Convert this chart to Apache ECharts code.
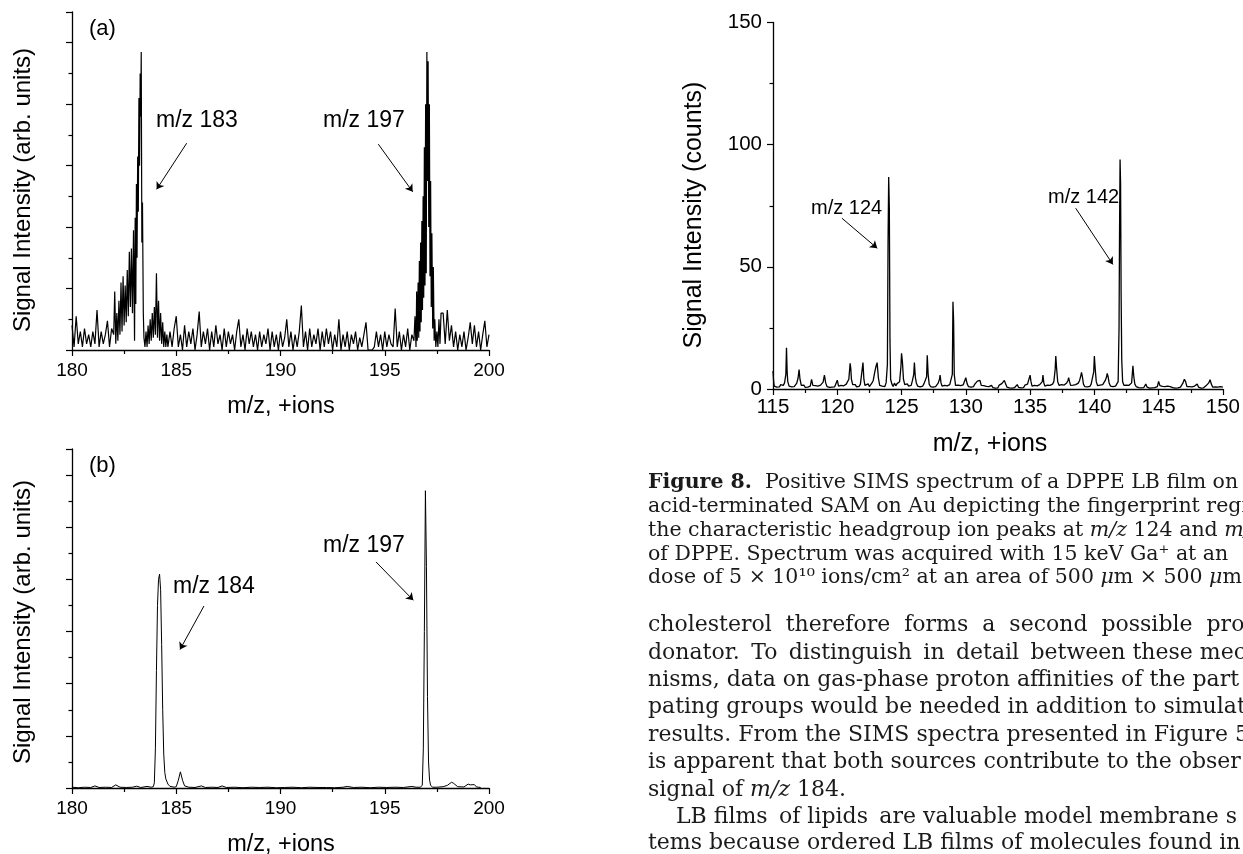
<!DOCTYPE html>
<html>
<head>
<meta charset="utf-8">
<script src="https://cdn.jsdelivr.net/npm/echarts@6/dist/echarts.min.js"></script>
<style>
  html, body { margin: 0; padding: 0; background: #fff; }
  #chart { width: 1243px; height: 854px; }
</style>
</head>
<body>
<div id="chart"></div>
<script>
// ---- panel (a): m/z 180-200, arb. units ----
// baseline noise, step 0.1
var aNoise1Start = 180.0; // 180.0 - 181.9
var aNoise1 = [0.8,0.1,1.1,0.2,0.6,0.1,0.7,0.2,0.5,0.1,0.6,0.2,1.3,0.1,0.6,0.2,0.5,0.95,0.1,0.7];
var aPeak183 = [
  [182.0,0.5],[182.05,1.9],[182.1,0.2],[182.15,1.2],[182.2,0.3],[182.25,1.6],[182.3,0.5],[182.35,2.2],[182.4,0.6],[182.45,2.4],
  [182.5,0.8],[182.55,2.1],[182.6,0.9],[182.65,2.6],[182.7,1.1],[182.75,3.2],[182.8,1.4],[182.85,3.3],[182.9,1.2],[182.95,3.9],
  [183.0,0.3],[183.03,4.3],[183.06,1.5],[183.09,5.4],[183.12,3.0],[183.15,6.3],[183.18,4.5],[183.21,8.2],[183.24,6.0],[183.27,9.0],
  [183.30,7.6],[183.32,9.7],[183.35,3.5],[183.38,4.8],[183.42,1.2],[183.45,0.4],[183.5,0.1],[183.55,0.6],[183.6,0.1],[183.65,0.8],
  [183.7,0.2],[183.75,1.0],[183.8,0.3],[183.85,1.2],[183.9,0.4],[183.95,1.4],[184.0,0.5],[184.05,2.5],[184.1,0.4],[184.15,1.6],
  [184.2,0.3],[184.25,1.2],[184.3,0.2],[184.35,0.9],[184.4,0.1],[184.45,0.6],[184.5,0.1],[184.55,0.5],[184.6,0.1]
];
var aNoise2Start = 184.7; // 184.7 - 196.3
var aNoise2 = [
  0.6,0.1,0.7,1.1,0.1,0.5,0.0,0.8,0.1,0.6,
  0.2,0.7,0.0,0.5,1.25,0.1,0.6,0.2,0.7,0.0,
  0.6,0.1,0.8,0.2,0.5,0.0,0.7,0.1,0.6,0.2,
  0.5,0.0,0.6,1.0,0.1,0.5,0.0,0.7,0.2,0.6,
  0.1,0.5,0.0,0.6,0.1,0.5,0.2,0.7,0.0,0.6,
  0.1,0.5,0.0,0.6,0.1,0.4,1.0,0.1,0.6,0.0,
  0.5,0.1,0.6,1.45,0.1,0.6,0.0,0.7,0.1,0.5,
  0.2,0.7,0.0,0.6,0.1,0.7,0.2,0.6,0.0,0.5,
  0.1,1.0,0.0,0.5,0.1,0.6,0.0,0.5,0.2,0.6,
  0.0,0.4,0.1,0.5,0.9,0.0,0.0,0.0,0.1,0.6,
  0.1,0.5,0.0,0.6,0.1,0.5,0.2,0.1,1.35,0.1,
  0.6,0.0,0.5,0.1,0.7,0.0,0.5
];
var aPeak197 = [
  [196.4,0.3],[196.45,1.1],[196.5,0.1],[196.53,1.9],[196.56,0.3],[196.6,2.2],[196.63,0.4],[196.66,2.9],[196.69,0.6],[196.72,3.5],
  [196.75,0.9],[196.78,4.2],[196.81,1.3],[196.84,5.0],[196.87,1.7],[196.9,6.6],[196.93,2.1],[196.96,8.0],[196.99,2.5],[197.02,9.7],
  [197.05,5.5],[197.08,9.4],[197.11,4.0],[197.14,8.0],[197.17,2.4],[197.2,5.5],[197.23,1.4],[197.26,3.8],[197.3,0.7],[197.33,2.7],
  [197.37,0.3],[197.4,1.0],[197.45,0.1],[197.5,0.6],[197.55,0.1],[197.6,1.0],[197.65,0.2],[197.7,1.2]
];
var aNoise3Start = 197.8; // 197.8 - 200.0
var aNoise3 = [1.2,0.2,1.3,0.3,0.8,0.1,0.6,0.0,0.5,0.1,0.6,0.0,0.4,0.9,0.2,0.8,0.1,0.6,0.0,0.5,0.95,0.1,0.5];

// ---- panel (b): m/z 180-200, arb. units ----
var bSpectrum = [
  [180.0,0.03],[180.3,0.01],[180.6,0.03],[180.9,0.02],[181.1,0.08],[181.3,0.02],[181.6,0.03],[181.9,0.02],[182.1,0.12],[182.3,0.03],
  [182.6,0.02],[182.9,0.03],[183.1,0.07],[183.3,0.02],[183.6,0.06],[183.8,0.03],[183.9,0.05],[183.95,0.2],[184.0,1.5],[184.05,4.5],
  [184.1,7.0],[184.15,8.0],[184.2,8.2],[184.25,7.6],[184.3,5.5],[184.35,3.0],[184.4,1.3],[184.45,0.6],[184.5,0.35],[184.6,0.15],
  [184.7,0.06],[184.8,0.05],[184.9,0.03],[185.0,0.05],[185.1,0.3],[185.2,0.62],[185.3,0.3],[185.4,0.08],[185.6,0.03],[185.9,0.02],
  [186.2,0.08],[186.4,0.02],[186.7,0.03],[187.0,0.02],[187.2,0.08],[187.4,0.02],[187.8,0.03],[188.2,0.01],[188.6,0.03],[189.0,0.02],
  [189.4,0.03],[189.8,0.01],[190.2,0.02],[190.6,0.03],[191.0,0.01],[191.4,0.03],[191.8,0.02],[192.2,0.02],[192.6,0.01],[193.0,0.03],
  [193.2,0.06],[193.5,0.02],[193.9,0.03],[194.3,0.01],[194.7,0.03],[195.1,0.02],[195.5,0.03],[195.9,0.02],[196.3,0.06],[196.5,0.03],
  [196.7,0.03],[196.75,0.02],[196.8,0.1],[196.85,1.5],[196.9,6.0],[196.95,11.4],[197.0,8.5],[197.05,3.5],[197.1,1.0],[197.15,0.3],
  [197.2,0.1],[197.3,0.03],[197.5,0.03],[197.8,0.05],[198.0,0.1],[198.2,0.22],[198.3,0.18],[198.5,0.05],[198.8,0.04],[199.0,0.15],
  [199.1,0.12],[199.3,0.13],[199.4,0.04],[199.6,0.02]
];

// ---- right panel: m/z 115-150, counts ----
var cSpectrum = [
  [115.0,7.4],[115.05,3],[115.1,1.2],[115.2,2.0],[115.3,0.8],[115.4,1.6],[115.5,0.9],[115.6,1.8],[115.7,1.0],[115.8,1.5],[115.9,2.5],
  [116.0,6],[116.05,16.9],[116.1,7],[116.15,3],[116.25,1.2],[116.35,2.0],[116.45,0.9],[116.55,1.7],[116.65,1.0],[116.75,1.8],[116.85,2.4],[116.95,4.5],
  [117.03,8.0],[117.1,4],[117.2,1.5],[117.3,0.8],[117.4,1.6],[117.5,0.7],[117.6,1.3],[117.7,0.8],[117.8,1.5],[117.9,1.2],
  [118.0,3.9],[118.1,1.5],[118.2,0.8],[118.3,1.4],[118.4,0.6],[118.5,1.2],[118.6,0.7],[118.7,1.6],[118.8,1.9],[118.9,2.8],
  [119.0,5.7],[119.1,2.5],[119.2,1.0],[119.3,1.5],[119.4,0.7],[119.5,1.3],[119.6,0.8],[119.7,1.4],[119.8,0.9],[119.9,1.6],
  [120.0,3.6],[120.1,1.2],[120.2,0.7],[120.3,1.5],[120.4,0.8],[120.5,1.3],[120.6,0.9],[120.7,2.0],[120.8,1.6],[120.9,4],
  [121.0,10.5],[121.05,8.5],[121.1,4.0],[121.2,1.8],[121.3,1.0],[121.4,1.8],[121.5,0.9],[121.6,1.5],[121.7,1.1],[121.8,2.0],[121.9,2.5],
  [122.0,10.8],[122.07,4],[122.15,1.5],[122.3,1.2],[122.4,2.1],[122.5,1.0],[122.6,1.8],[122.7,2.5],[122.8,3.5],[122.9,6.5],
  [123.0,9.0],[123.1,10.8],[123.2,4.5],[123.3,1.5],[123.4,2.2],[123.5,1.2],[123.6,1.9],[123.7,1.0],[123.8,2.5],[123.9,10],
  [123.95,60],[124.0,86.8],[124.05,74],[124.1,20],[124.15,4],[124.25,2.0],[124.35,1.0],[124.45,2.4],[124.55,1.3],[124.65,2.2],[124.75,1.6],[124.85,3.0],[124.95,9],
  [125.0,14.6],[125.07,11],[125.15,4],[125.25,1.8],[125.35,1.0],[125.45,2.1],[125.55,1.2],[125.65,2.0],[125.75,1.5],[125.85,3.5],[125.95,6],
  [126.0,10.8],[126.07,5],[126.15,2.5],[126.25,1.2],[126.35,2.0],[126.45,0.9],[126.55,1.6],[126.65,1.2],[126.75,2.2],[126.85,1.4],[126.95,5],
  [127.0,13.8],[127.07,6],[127.15,2],[127.25,1.0],[127.35,1.6],[127.45,0.8],[127.55,1.4],[127.65,1.0],[127.75,1.8],[127.85,2.4],[127.95,4],
  [128.0,5.7],[128.07,2.5],[128.15,1.2],[128.25,0.7],[128.35,1.5],[128.45,0.8],[128.55,1.3],[128.65,1.0],[128.75,1.8],[128.85,1.2],[128.95,6],
  [129.0,35.7],[129.05,28],[129.1,6],[129.2,1.5],[129.3,0.8],[129.4,1.6],[129.5,0.9],[129.6,1.4],[129.7,1.0],[129.8,1.7],[129.9,1.5],
  [130.0,4.6],[130.1,2.2],[130.2,1.0],[130.3,1.6],[130.4,0.8],[130.5,1.4],[130.6,1.0],[130.7,2.0],[130.8,1.5],[130.9,3.2],
  [131.0,4.0],[131.1,3.5],[131.2,1.5],[131.3,0.8],[131.4,1.4],[131.5,0.6],[131.6,1.1],[131.7,0.4],[131.8,1.0],[131.9,0.5],
  [132.0,1.5],[132.1,0.6],[132.2,1.2],[132.3,0.4],[132.4,1.0],[132.5,0.5],[132.6,1.6],[132.7,0.8],[132.8,2.2],[132.9,1.4],
  [133.0,3.5],[133.1,2.0],[133.2,0.8],[133.3,1.3],[133.4,0.5],[133.5,1.1],[133.6,0.4],[133.7,1.0],[133.8,0.6],[133.9,1.4],
  [134.0,1.8],[134.1,0.7],[134.2,1.2],[134.3,0.5],[134.4,1.3],[134.5,0.6],[134.6,1.6],[134.7,1.0],[134.8,2.0],[134.9,2.6],
  [135.0,5.7],[135.07,3],[135.15,1.2],[135.25,0.8],[135.35,1.5],[135.45,0.7],[135.55,1.3],[135.65,1.0],[135.75,1.8],[135.85,1.2],[135.95,3],
  [136.0,5.7],[136.07,2.5],[136.15,1.2],[136.25,0.8],[136.35,1.6],[136.45,0.9],[136.55,1.5],[136.65,1.2],[136.75,2.0],[136.85,3.0],[136.95,8],
  [137.0,13.5],[137.07,8],[137.15,3],[137.25,1.5],[137.35,1.0],[137.45,1.8],[137.55,1.0],[137.65,1.6],[137.75,1.2],[137.85,2.5],[137.95,3.5],
  [138.0,4.6],[138.07,3],[138.15,1.5],[138.25,0.9],[138.35,1.6],[138.45,1.0],[138.55,1.8],[138.65,1.3],[138.75,2.4],[138.85,3.5],[138.95,5.5],
  [139.0,6.8],[139.07,5],[139.15,2],[139.25,1.0],[139.35,1.6],[139.45,0.9],[139.55,1.5],[139.65,1.1],[139.75,2.0],[139.85,2.8],[139.95,7],
  [140.0,13.5],[140.07,8],[140.15,3],[140.25,1.4],[140.35,0.9],[140.45,1.6],[140.55,1.0],[140.65,1.8],[140.75,1.2],[140.85,3.5],[140.95,5],
  [141.0,6.4],[141.07,5],[141.15,2.5],[141.25,1.2],[141.35,1.8],[141.45,1.0],[141.55,1.6],[141.65,1.2],[141.75,2.0],[141.85,3.0],
  [141.92,25],[141.96,65],[142.0,93.9],[142.04,84],[142.08,40],[142.13,12],[142.2,3],[142.3,1.5],[142.4,0.9],[142.5,1.6],[142.6,1.0],[142.7,1.5],[142.8,1.2],[142.9,2.5],
  [143.0,9.5],[143.07,5],[143.15,2],[143.25,1.0],[143.35,1.5],[143.45,0.6],[143.55,1.2],[143.65,0.5],[143.75,1.0],[143.85,0.6],[143.95,1.4],
  [144.0,2.0],[144.1,0.8],[144.2,1.2],[144.3,0.4],[144.4,1.0],[144.5,0.5],[144.6,1.1],[144.7,0.6],[144.8,1.4],[144.9,1.0],
  [145.0,3.1],[145.1,1.4],[145.2,0.6],[145.3,1.1],[145.4,0.4],[145.5,1.0],[145.6,0.5],[145.7,1.2],[145.8,0.6],[145.9,1.0],
  [146.0,1.5],[146.1,0.6],[146.2,1.0],[146.3,0.4],[146.4,0.9],[146.5,0.5],[146.6,1.2],[146.7,0.8],[146.8,1.6],[146.9,2.5],
  [147.0,4.0],[147.1,3.0],[147.2,1.0],[147.3,0.5],[147.4,1.0],[147.5,0.4],[147.6,0.9],[147.7,0.5],[147.8,1.2],[147.9,0.8],
  [148.0,2.0],[148.1,0.8],[148.2,1.0],[148.3,0.4],[148.4,0.8],[148.5,0.5],[148.6,1.0],[148.7,1.4],[148.8,1.8],[148.9,2.5],
  [149.0,3.8],[149.1,2.0],[149.2,0.8],[149.3,0.4],[149.4,0.9],[149.5,0.3],[149.6,0.8],[149.7,0.4],[149.8,1.0],[149.9,0.5],[150.0,0.8]
];

// annotation arrows, in data units: [from, to]
var aArrows = [[[185.5,6.73],[184.06,5.23]], [[194.69,6.7],[196.34,5.15]]];
var bArrows = [[[186.33,6.98],[185.18,5.31]], [[194.58,8.67],[196.37,7.2]]];
var cArrows = [[[120.36,69.9],[123.11,57.6]], [[138.55,74.0],[141.44,51.0]]];

var T = '\u2009'; // thin space, used to stretch justified lines
var captionLines = [
  '{b|Figure 8.}  Positive SIMS spectrum of a DPPE LB film on',
  'acid-terminated SAM on Au depicting the fingerprint region',
  'the characteristic headgroup ion peaks at {i|m/z} 124 and {i|m/z} 142',
  'of DPPE. Spectrum was acquired with 15 keV Ga\u207A at an',
  'dose of 5 \u00D7 10\u00B9\u2070 ions/cm\u00B2 at an area of 500 {i|\u03BC}m \u00D7 500 {i|\u03BC}m'
];
var bodyLines = [
  'cholesterol  therefore  forms  a  second  possible  pro',
  'donator. ' + T + 'To ' + T + 'distinguish ' + T + 'in ' + T + 'detail ' + T + 'between these mec',
  'nisms, data on gas-phase proton affinities of the part',
  'pating groups would be needed in addition to simulat',
  'results. From the SIMS spectra presented in Figure 5',
  'is apparent that both sources contribute to the obser',
  'signal of {i|m/z} 184.',
  '    LB films ' + T + 'of lipids ' + T + 'are valuable model membrane s',
  'tems because ordered LB films of molecules found in c'
];

function seg(start, step, vals) {
  return vals.map(function (v, i) { return [+(start + i * step).toFixed(2), v]; });
}
var aSpectrum = [].concat(seg(aNoise1Start, 0.1, aNoise1), aPeak183, seg(aNoise2Start, 0.1, aNoise2),
  aPeak197, seg(aNoise3Start, 0.1, aNoise3));

var SANS = "'Liberation Sans', Arial, sans-serif";
var SERIF = "'DejaVu Serif', serif";

function xAx(gi, min, max, fontSize, margin) {
  return {
    type: 'value', gridIndex: gi, min: min, max: max, interval: 5,
    axisLine: { show: true, onZero: false, lineStyle: { color: '#000', width: 1.3 } },
    axisTick: { show: true, inside: false, length: 6, lineStyle: { color: '#000', width: 1.2 } },
    minorTick: { show: true, splitNumber: 2, length: 4, lineStyle: { color: '#000', width: 1.2 } },
    splitLine: { show: false },
    axisLabel: { color: '#000', fontSize: fontSize, fontFamily: SANS, margin: margin }
  };
}
function yAx(gi, max, interval, showLabel, fontSize) {
  return {
    type: 'value', gridIndex: gi, min: 0, max: max, interval: interval,
    axisLine: { show: true, onZero: false, lineStyle: { color: '#000', width: 1.3 } },
    axisTick: { show: true, inside: false, length: 6, lineStyle: { color: '#000', width: 1.2 } },
    minorTick: { show: true, splitNumber: 2, length: 3.5, lineStyle: { color: '#000', width: 1.2 } },
    splitLine: { show: false },
    axisLabel: { show: showLabel, color: '#000', fontSize: fontSize || 12, fontFamily: SANS, margin: 11 }
  };
}
function arrows(list) {
  return {
    silent: true, animation: false, symbol: ['none', 'arrow'], symbolSize: 7,
    lineStyle: { color: '#000', width: 1, type: 'solid' },
    label: { show: false }, emphasis: { disabled: true },
    data: list.map(function (a) { return [{ coord: a[0] }, { coord: a[1] }]; })
  };
}
function spec(i, data, w) {
  return {
    type: 'line', xAxisIndex: i, yAxisIndex: i, data: data, symbol: 'none', showSymbol: false,
    lineStyle: { color: '#000', width: w }, silent: true, clip: true
  };
}
function txt(x, y, text, size, extra) {
  var e = {
    type: 'text', x: x, y: y, silent: true,
    style: { text: text, fontSize: size, fontFamily: SANS, fill: '#000',
      textAlign: 'left', textVerticalAlign: 'middle', align: 'left', verticalAlign: 'middle' }
  };
  if (extra) {
    for (var k in extra) {
      if (k === 'style') { for (var s in extra.style) e.style[s] = extra.style[s]; }
      else e[k] = extra[k];
    }
  }
  return e;
}
function centered(x, y, text, size, rot) {
  return txt(x, y, text, size, { rotation: rot || 0, style: { textAlign: 'center', align: 'center' } });
}
function serifLine(x, y, text, size) {
  var rich = {
    b: { fontSize: size, fontFamily: SERIF, fontWeight: 'bold', fill: '#1a1a1a', color: '#1a1a1a' },
    i: { fontSize: size, fontFamily: SERIF, fontStyle: 'italic', fill: '#1a1a1a', color: '#1a1a1a' }
  };
  return txt(x, y, text, size, { style: { fontFamily: SERIF, fill: '#1a1a1a', rich: rich } });
}

var graphics = [
  txt(89, 29, '(a)', 22),
  txt(156, 121, 'm/z 183', 23),
  txt(323, 121, 'm/z 197', 23),
  txt(89, 466, '(b)', 22),
  txt(173, 587, 'm/z 184', 23),
  txt(323, 546, 'm/z 197', 23),
  txt(811, 208, 'm/z 124', 20),
  txt(1048, 197, 'm/z 142', 20),
  centered(23, 190, 'Signal Intensity (arb. units)', 24, Math.PI / 2),
  centered(23, 622, 'Signal Intensity (arb. units)', 24, Math.PI / 2),
  centered(694, 215, 'Signal Intensity (counts)', 25, Math.PI / 2),
  centered(281, 407, 'm/z, +ions', 23.5),
  centered(281, 845, 'm/z, +ions', 23.5),
  centered(990, 444, 'm/z, +ions', 25)
];
var capY = [483, 507, 531, 555, 578];
captionLines.forEach(function (t, i) { graphics.push(serifLine(648, capY[i], t, 20.5)); });
var bodyY = [625, 653, 680, 707, 735, 762, 790, 817, 843];
bodyLines.forEach(function (t, i) { graphics.push(serifLine(648, bodyY[i], t, 22)); });

var chart = echarts.init(document.getElementById('chart'), null, { renderer: 'canvas' });
var option = {
  animation: false,
  backgroundColor: '#fff',
  grid: [
    { left: 72, top: 12, width: 417, height: 338 },
    { left: 72, top: 449, width: 417, height: 339 },
    { left: 773, top: 22.5, width: 456, height: 366.5 }
  ],
  xAxis: [xAx(0, 180, 200, 19, 11), xAx(1, 180, 200, 19, 11), xAx(2, 115, 150, 20.5, 8)],
  yAxis: [yAx(0, 11, 2, false), yAx(1, 13, 2, false), yAx(2, 150, 50, true, 20.5)],
  series: [
    Object.assign(spec(0, aSpectrum, 1.2), { markLine: arrows(aArrows) }),
    Object.assign(spec(1, bSpectrum, 1), { markLine: arrows(bArrows) }),
    Object.assign(spec(2, cSpectrum, 1.3), { markLine: arrows(cArrows) })
  ],
  graphic: graphics
};
chart.setOption(option);
</script>
</body>
</html>
